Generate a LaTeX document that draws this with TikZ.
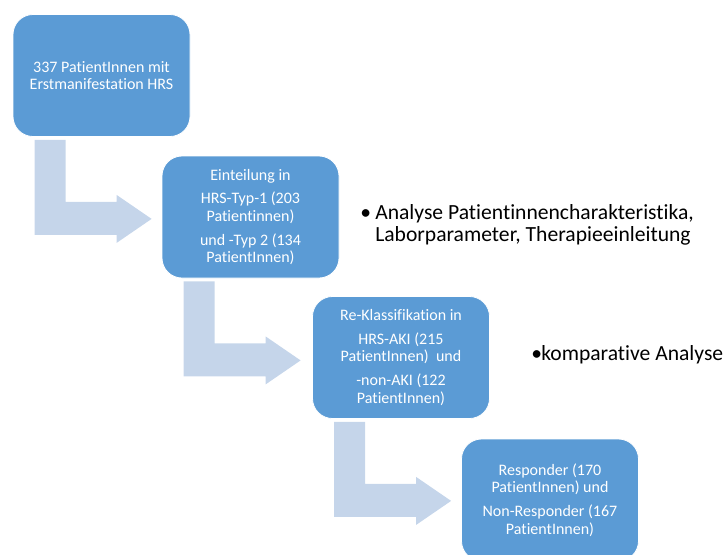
\documentclass[tikz,border=0pt]{standalone}
\usepackage{fontspec}
\setmainfont[RawFeature={-liga;-clig;-dlig}]{Carlito}
\usetikzlibrary{calc}
\definecolor{boxblue}{HTML}{5B9BD5}
\definecolor{arrowblue}{HTML}{C5D5EA}
\tikzset{
  stepbox/.style={rectangle, rounded corners=15pt, fill=boxblue, draw=white, line width=0.6pt,
    minimum width=132.75pt, minimum height=91.5pt, inner sep=0pt, text=white, align=center,
    font=\fontsize{12}{13.2}\selectfont},
  bullettext/.style={anchor=base west, inner sep=0pt, text=black, font=\fontsize{16.2}{16.5}\selectfont},
  arrowfill/.style={fill=arrowblue}
}
\newcommand\blockarrow[1]{%
  \fill[arrowfill] ($(#1.south west)+(22,3)$) -- ++(31,0) -- ++(0,62) -- ++(51,0) -- ++(0,-7)
    -- ++(35,24) -- ++(-35,24) -- ++(0,-8) -- ++(-82,0) -- cycle;}
\begin{document}
\begin{tikzpicture}[x=0.75pt,y=-0.75pt]
\useasboundingbox (0,0) rectangle (724,554);
\node[stepbox] (b1) at (101.5,75.5) {337 PatientInnen mit\\Erstmanifestation HRS};
\node[stepbox] (b2) at (250.5,217) {Einteilung in\\[4.5pt]HRS-Typ-1 (203\\Patientinnen)\\[4.5pt]und -Typ 2 (134\\PatientInnen)};
\node[stepbox] (b3) at (401,357.5) {Re-Klassifikation in\\[4.5pt]HRS-AKI (215\\PatientInnen)~~und\\[4.5pt]-non-AKI (122\\PatientInnen)};
\node[stepbox] (b4) at (550,500) {Responder (170\\PatientInnen) und\\[4.5pt]Non-Responder (167\\PatientInnen)};
\blockarrow{b1}
\blockarrow{b2}
\blockarrow{b3}
\node[bullettext] (p1) at (360,219) {•};
\node[bullettext] (t1) at (375,219) {Analyse Patientinnencharakteristika,};
\node[bullettext] (t1b) at (375,241) {Laborparameter, Therapieeinleitung};
\node[bullettext] (p2) at (531,360) {•};
\node[bullettext] (t2) at (541,360) {komparative Analyse};
\end{tikzpicture}
\end{document}
